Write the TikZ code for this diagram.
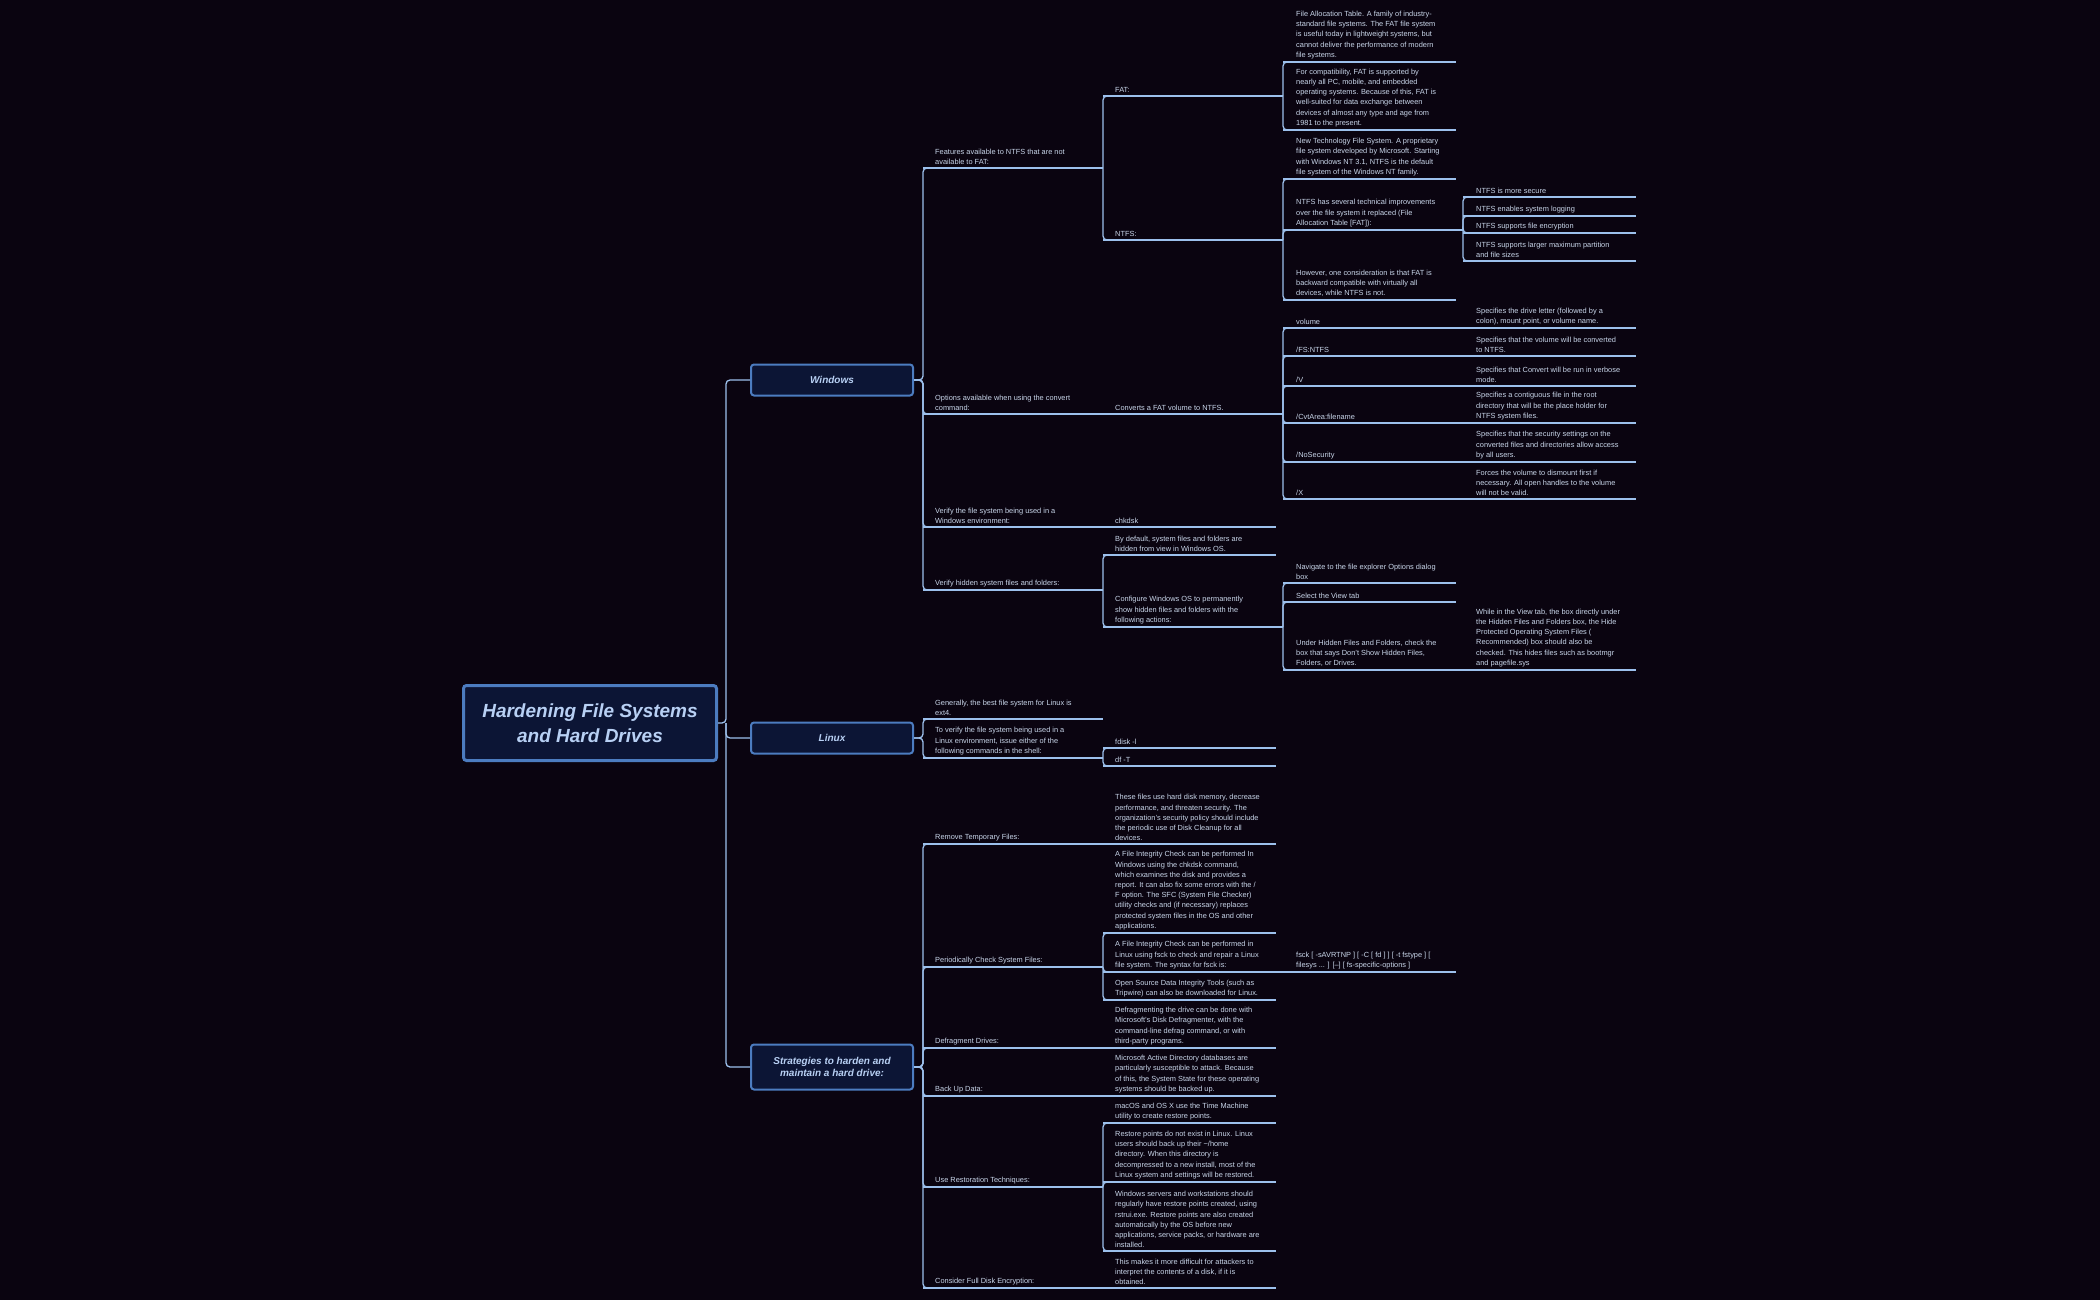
\documentclass[tikz,border=0pt]{standalone}
\usepackage{fontspec}
\setmainfont{Liberation Sans}
\definecolor{bg}{HTML}{0A0410}
\definecolor{ln}{HTML}{9CC0EC}
\definecolor{tx}{HTML}{C9D6EA}
\definecolor{boxfill}{HTML}{0C1535}
\definecolor{boxdraw}{HTML}{4C7CC0}
\definecolor{boxtx}{HTML}{B8D0F4}
\tikzset{
  leaf/.style={inner sep=0pt, align=left, anchor=south west, text=tx, font=\fontsize{7.4}{10.2}\selectfont},
  uline/.style={draw=ln, line width=1.3pt},
  conn/.style={draw=ln, line width=1.3pt, rounded corners=4pt},
  box/.style={draw=boxdraw, fill=boxfill, line width=2pt, rounded corners=3pt, text=boxtx, align=center, font=\fontsize{10}{12}\selectfont\bfseries\itshape, inner sep=0pt},
}
\newcommand\mmleaf[6]{%
  \coordinate (#1-s) at (#2,#4);
  \coordinate (#1-e) at (#3,#4);
  \draw[uline] (#1-s) -- (#1-e);
  \node[leaf] (#1) at (#5,#4-3) {#6};
}
\newcommand\mmconn[2]{\draw[conn] (#1-e) |- ([xshift=8pt]#2-s);}
\begin{document}
\begin{tikzpicture}[x=1pt,y=-1pt]
\fill[bg] (0,0) rectangle (2100,1300);
\useasboundingbox (0,0) rectangle (2100,1300);

% boxes
\node[box, minimum width=253pt, minimum height=75pt, line width=3pt, font=\fontsize{19}{25}\selectfont\bfseries\itshape] (root) at (590,723) {Hardening File Systems\\and Hard Drives};
\node[box, minimum width=162pt, minimum height=31pt] (win) at (832,380) {Windows};
\node[box, minimum width=162pt, minimum height=31pt] (lin) at (832,738) {Linux};
\node[box, minimum width=162pt, minimum height=45pt] (str) at (832,1067) {Strategies to harden and\\maintain a hard drive:};

\coordinate (sp0) at (726,723);
\draw[conn] (root.east) -- (sp0) |- (win.west);
\draw[conn] (sp0) |- (lin.west);
\draw[conn] (sp0) |- (str.west);

% ---------- Windows
\mmleaf{feat}{923}{1103}{168}{935}{Features available to NTFS that are not\\available to FAT:}
\mmleaf{opt}{923}{1103}{414}{935}{Options available when using the convert\\command:}
\mmleaf{vfs}{923}{1103}{527}{935}{Verify the file system being used in a\\Windows environment:}
\mmleaf{vhid}{923}{1103}{590}{935}{Verify hidden system files and folders:}
\foreach \c in {feat,opt,vfs,vhid}{\draw[conn] (win.east) -- (win.east -| feat-s) |- ([xshift=8pt]\c-s);}

\mmleaf{fat}{1103}{1283}{96}{1115}{FAT:}
\mmleaf{ntfs}{1103}{1283}{240}{1115}{NTFS:}
\mmconn{feat}{fat}\mmconn{feat}{ntfs}

\mmleaf{fat1}{1283}{1456}{62}{1296}{File Allocation Table. A family of industry-\\standard file systems. The FAT file system\\is useful today in lightweight systems, but\\cannot deliver the performance of modern\\file systems.}
\mmleaf{fat2}{1283}{1456}{130}{1296}{For compatibility, FAT is supported by\\nearly all PC, mobile, and embedded\\operating systems. Because of this, FAT is\\well-suited for data exchange between\\devices of almost any type and age from\\1981 to the present.}
\mmconn{fat}{fat1}\mmconn{fat}{fat2}

\mmleaf{nt1}{1283}{1456}{179}{1296}{New Technology File System. A proprietary\\file system developed by Microsoft. Starting\\with Windows NT 3.1, NTFS is the default\\file system of the Windows NT family.}
\mmleaf{nt2}{1283}{1463}{230}{1296}{NTFS has several technical improvements\\over the file system it replaced (File\\Allocation Table [FAT]):}
\mmleaf{nt3}{1283}{1456}{300}{1296}{However, one consideration is that FAT is\\backward compatible with virtually all\\devices, while NTFS is not.}
\mmconn{ntfs}{nt1}\mmconn{ntfs}{nt2}\mmconn{ntfs}{nt3}

\mmleaf{ni1}{1463}{1636}{197}{1476}{NTFS is more secure}
\mmleaf{ni2}{1463}{1636}{216}{1476}{NTFS enables system logging}
\mmleaf{ni3}{1463}{1636}{233}{1476}{NTFS supports file encryption}
\mmleaf{ni4}{1463}{1636}{261}{1476}{NTFS supports larger maximum partition\\and file sizes}
\mmconn{nt2}{ni1}\mmconn{nt2}{ni2}\mmconn{nt2}{ni3}\mmconn{nt2}{ni4}

\mmleaf{conv}{1103}{1283}{414}{1115}{Converts a FAT volume to NTFS.}
\mmleaf{o1}{1283}{1456}{328}{1296}{volume}
\mmleaf{o2}{1283}{1456}{356}{1296}{/FS:NTFS}
\mmleaf{o3}{1283}{1456}{386}{1296}{/V}
\mmleaf{o4}{1283}{1456}{423}{1296}{/CvtArea:filename}
\mmleaf{o5}{1283}{1456}{462}{1296}{/NoSecurity}
\mmleaf{o6}{1283}{1456}{499}{1296}{/X}
\foreach \c in {o1,o2,o3,o4,o5,o6}{\mmconn{conv}{\c}}
\mmleaf{d1}{1456}{1636}{328}{1476}{Specifies the drive letter (followed by a\\colon), mount point, or volume name.}
\mmleaf{d2}{1456}{1636}{356}{1476}{Specifies that the volume will be converted\\to NTFS.}
\mmleaf{d3}{1456}{1636}{386}{1476}{Specifies that Convert will be run in verbose\\mode.}
\mmleaf{d4}{1456}{1636}{423}{1476}{Specifies a contiguous file in the root\\directory that will be the place holder for\\NTFS system files.}
\mmleaf{d5}{1456}{1636}{462}{1476}{Specifies that the security settings on the\\converted files and directories allow access\\by all users.}
\mmleaf{d6}{1456}{1636}{499}{1476}{Forces the volume to dismount first if\\necessary. All open handles to the volume\\will not be valid.}

\mmleaf{chk}{1103}{1276}{527}{1115}{chkdsk}

\mmleaf{h1}{1103}{1276}{555}{1115}{By default, system files and folders are\\hidden from view in Windows OS.}
\mmleaf{h2}{1103}{1283}{627}{1115}{Configure Windows OS to permanently\\show hidden files and folders with the\\following actions:}
\mmconn{vhid}{h1}\mmconn{vhid}{h2}
\mmleaf{a1}{1283}{1456}{583}{1296}{Navigate to the file explorer Options dialog\\box}
\mmleaf{a2}{1283}{1456}{602}{1296}{Select the View tab}
\mmleaf{a3}{1283}{1456}{670}{1296}{Under Hidden Files and Folders, check the\\box that says Don't Show Hidden Files,\\Folders, or Drives.}
\mmconn{h2}{a1}\mmconn{h2}{a2}\mmconn{h2}{a3}
\mmleaf{a4}{1456}{1636}{670}{1476}{While in the View tab, the box directly under\\the Hidden Files and Folders box, the Hide\\Protected Operating System Files (\\Recommended) box should also be\\checked. This hides files such as bootmgr\\and pagefile.sys}

% ---------- Linux
\mmleaf{l1}{923}{1103}{719}{935}{Generally, the best file system for Linux is\\ext4.}
\mmleaf{l2}{923}{1103}{758}{935}{To verify the file system being used in a\\Linux environment, issue either of the\\following commands in the shell:}
\foreach \c in {l1,l2}{\draw[conn] (lin.east) -- (lin.east -| l1-s) |- ([xshift=8pt]\c-s);}
\mmleaf{fd}{1103}{1276}{748}{1115}{fdisk -l}
\mmleaf{df}{1103}{1276}{766}{1115}{df -T}
\mmconn{l2}{fd}\mmconn{l2}{df}

% ---------- Strategies
\mmleaf{s1}{923}{1103}{844}{935}{Remove Temporary Files:}
\mmleaf{s2}{923}{1103}{967}{935}{Periodically Check System Files:}
\mmleaf{s3}{923}{1103}{1048}{935}{Defragment Drives:}
\mmleaf{s4}{923}{1103}{1096}{935}{Back Up Data:}
\mmleaf{s5}{923}{1103}{1187}{935}{Use Restoration Techniques:}
\mmleaf{s6}{923}{1103}{1288}{935}{Consider Full Disk Encryption:}
\foreach \c in {s1,s2,s3,s4,s5,s6}{\draw[conn] (str.east) -- (str.east -| s1-s) |- ([xshift=8pt]\c-s);}

\mmleaf{t1}{1103}{1276}{844}{1115}{These files use hard disk memory, decrease\\performance, and threaten security. The\\organization's security policy should include\\the periodic use of Disk Cleanup for all\\devices.}
\mmleaf{p1}{1103}{1276}{933}{1115}{A File Integrity Check can be performed In\\Windows using the chkdsk command,\\which examines the disk and provides a\\report. It can also fix some errors with the /\\F option. The SFC (System File Checker)\\utility checks and (if necessary) replaces\\protected system files in the OS and other\\applications.}
\mmleaf{p2}{1103}{1283}{972}{1115}{A File Integrity Check can be performed in\\Linux using fsck to check and repair a Linux\\file system. The syntax for fsck is:}
\mmleaf{p3}{1103}{1276}{1000}{1115}{Open Source Data Integrity Tools (such as\\Tripwire) can also be downloaded for Linux.}
\mmconn{s2}{p1}\mmconn{s2}{p2}\mmconn{s2}{p3}
\mmleaf{fsck}{1283}{1456}{972}{1296}{fsck [ -sAVRTNP ] [ -C [ fd ] ] [ -t fstype ] [\\filesys ... ] [--] [ fs-specific-options ]}
\mmleaf{df1}{1103}{1276}{1048}{1115}{Defragmenting the drive can be done with\\Microsoft's Disk Defragmenter, with the\\command-line defrag command, or with\\third-party programs.}
\mmleaf{b1}{1103}{1276}{1096}{1115}{Microsoft Active Directory databases are\\particularly susceptible to attack. Because\\of this, the System State for these operating\\systems should be backed up.}
\mmleaf{r1}{1103}{1276}{1123}{1115}{macOS and OS X use the Time Machine\\utility to create restore points.}
\mmleaf{r2}{1103}{1276}{1182}{1115}{Restore points do not exist in Linux. Linux\\users should back up their \textasciitilde/home\\directory. When this directory is\\decompressed to a new install, most of the\\Linux system and settings will be restored.}
\mmleaf{r3}{1103}{1276}{1251}{1115}{Windows servers and workstations should\\regularly have restore points created, using\\rstrui.exe. Restore points are also created\\automatically by the OS before new\\applications, service packs, or hardware are\\installed.}
\mmconn{s5}{r1}\mmconn{s5}{r2}\mmconn{s5}{r3}
\mmleaf{e1}{1103}{1276}{1288}{1115}{This makes it more difficult for attackers to\\interpret the contents of a disk, if it is\\obtained.}
\end{tikzpicture}
\end{document}
